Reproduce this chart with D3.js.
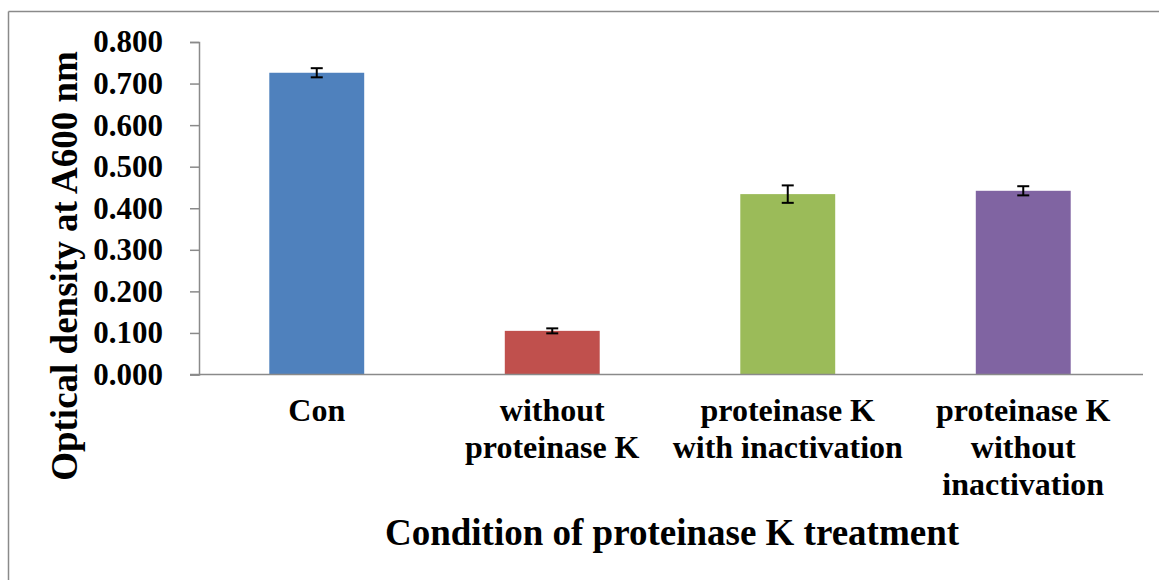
<!DOCTYPE html>
<html>
<head>
<meta charset="utf-8">
<script src="https://cdn.jsdelivr.net/npm/d3@7"></script>
<style>
  html, body { margin: 0; padding: 0; background: #fff; }
  svg { display: block; }
  text { font-family: "Liberation Serif", "Times New Roman", serif; font-weight: bold; fill: #000; }
</style>
</head>
<body>
<svg id="chart" width="1159" height="580"></svg>
<script>
const categories = ["Con", "without proteinase K", "proteinase K with inactivation", "proteinase K without inactivation"];
const categoryLines = [["Con"], ["without", "proteinase K"], ["proteinase K", "with inactivation"], ["proteinase K", "without", "inactivation"]];
const values = [0.726, 0.105, 0.434, 0.442];
const errors = [0.011, 0.006, 0.021, 0.011];
const colors = ["#4F81BD", "#C0504D", "#9BBB59", "#8064A2"];
const yTicks = [0, 0.1, 0.2, 0.3, 0.4, 0.5, 0.6, 0.7, 0.8];
const yTitle = "Optical density at A600 nm";
const xTitle = "Condition of proteinase K treatment";

(function () {
const svg = d3.select("#chart");
const pLeft = 199, pRight = 1141, pTop = 42, pBottom = 374.5;

// outer frame (left and top only visible)
svg.append("line").attr("x1", 8.5).attr("x2", 8.5).attr("y1", 11.5).attr("y2", 580)
  .attr("stroke", "#8a8a8a").attr("stroke-width", 1.5);
svg.append("line").attr("x1", 8.5).attr("x2", 1159).attr("y1", 11.5).attr("y2", 11.5)
  .attr("stroke", "#8a8a8a").attr("stroke-width", 1.5);

const x = d3.scaleBand().domain(categories).range([pLeft, pRight]).padding(0);
const y = d3.scaleLinear().domain([0, 0.8]).range([pBottom, pTop]);
const barW = x.bandwidth() * 0.403;

// y axis
const yAxis = svg.append("g").attr("transform", `translate(${pLeft},0)`)
  .call(d3.axisLeft(y).tickValues(yTicks).tickFormat(d3.format(".3f")).tickSize(9).tickPadding(27));
yAxis.select(".domain").attr("stroke", "#8a8a8a").attr("stroke-width", 1.5);
yAxis.selectAll(".tick line").attr("stroke", "#8a8a8a").attr("stroke-width", 1.5);
yAxis.selectAll(".tick text").attr("font-size", 31).attr("font-family", "Liberation Serif")
  .attr("font-weight", "bold").attr("fill", "#000");

// bars
svg.append("g").selectAll("rect").data(categories).join("rect")
  .attr("x", d => x(d) + x.bandwidth() / 2 - barW / 2)
  .attr("width", barW)
  .attr("y", (d, i) => y(values[i]))
  .attr("height", (d, i) => y(0) - y(values[i]))
  .attr("fill", (d, i) => colors[i]);

// x axis line
const xAxis = svg.append("g").attr("transform", `translate(0,${pBottom})`)
  .call(d3.axisBottom(x).tickSize(0).tickFormat(""));
xAxis.select(".domain").attr("stroke", "#8a8a8a").attr("stroke-width", 1.5)
  .attr("d", `M${pLeft - 9},0H${pRight + 2}`);

// error bars
const eg = svg.append("g").attr("stroke", "#000").attr("stroke-width", 2);
categories.forEach((c, i) => {
  const cx = x(c) + x.bandwidth() / 2;
  const y1 = y(values[i] + errors[i]), y2 = y(values[i] - errors[i]);
  eg.append("line").attr("x1", cx).attr("x2", cx).attr("y1", y1).attr("y2", y2);
  eg.append("line").attr("x1", cx - 6).attr("x2", cx + 6).attr("y1", y1).attr("y2", y1);
  eg.append("line").attr("x1", cx - 6).attr("x2", cx + 6).attr("y1", y2).attr("y2", y2);
});

// category labels
categories.forEach((c, i) => {
  const t = svg.append("text").attr("text-anchor", "middle").attr("font-size", 32)
    .attr("x", x(c) + x.bandwidth() / 2).attr("y", 421);
  categoryLines[i].forEach((ln, j) => {
    t.append("tspan").attr("x", x(c) + x.bandwidth() / 2).attr("dy", j === 0 ? 0 : 37).text(ln);
  });
});

// axis titles
svg.append("text").attr("text-anchor", "middle").attr("font-size", 37)
  .attr("transform", `translate(77,266) rotate(-90)`).text(yTitle);
svg.append("text").attr("text-anchor", "middle").attr("font-size", 37)
  .attr("x", 672).attr("y", 545).text(xTitle);
})();
</script>
</body>
</html>
